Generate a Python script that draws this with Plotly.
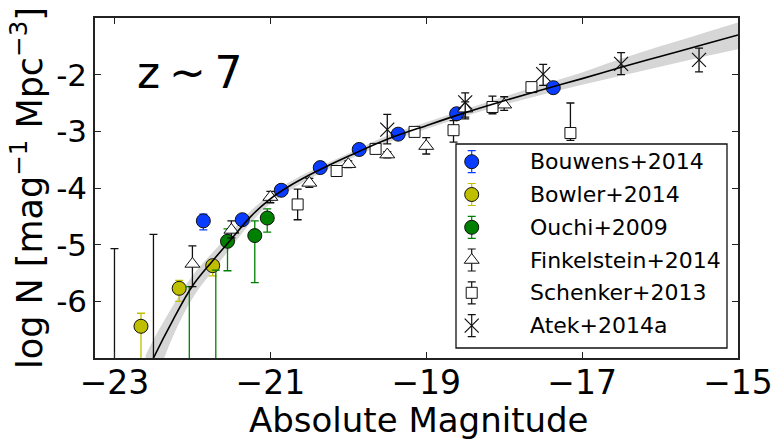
import plotly.graph_objects as go

# ---------------- data ----------------
bouwens_M = [-21.86, -21.36, -20.86, -20.36, -19.86, -19.36, -18.61, -17.37]
bouwens_logN = [-4.58, -4.56, -4.04, -3.64, -3.32, -3.05, -2.69, -2.23]
bouwens_up = [0.12, 0.05, 0.04, 0.03, 0.03, 0.03, 0.04, 0.05]
bouwens_dn = [0.16, 0.05, 0.04, 0.03, 0.03, 0.03, 0.04, 0.05]

bowler_M = [-22.66, -22.17, -21.74]
bowler_logN = [-6.44, -5.77, -5.37]
bowler_up = [0.23, 0.14, 0.07]
bowler_dn = [1.00, 0.23, 0.18]

ouchi_M = [-22.04, -21.70, -21.55, -21.20, -21.04]
ouchi_logN = [-7.60, -7.40, -4.94, -4.84, -4.53]
ouchi_up = [1.86, 1.95, 0.22, 0.26, 0.16]
ouchi_dn = [0.50, 0.50, 0.52, 0.83, 0.25]

finkel_M = [-23.0, -22.5, -22.0, -21.5, -21.0, -20.5, -20.0, -19.5, -19.0, -18.5, -18.0]
finkel_logN = [-7.80, -7.60, -5.34, -4.74, -4.16, -3.91, -3.58, -3.41, -3.26, -2.60, -2.53]
finkel_up = [2.73, 2.78, 0.32, 0.16, 0.10, 0.08, 0.06, 0.05, 0.15, 0.12, 0.14]
finkel_dn = [0.50, 0.50, 0.40, 0.14, 0.10, 0.08, 0.06, 0.06, 0.14, 0.15, 0.10]

schenker_M = [-20.65, -20.15, -19.65, -19.15, -18.65, -18.15, -17.65, -17.15]
schenker_logN = [-4.29, -3.70, -3.31, -3.01, -2.98, -2.57, -2.22, -3.03]
schenker_up = [0.27, 0.06, 0.05, 0.04, 0.17, 0.19, 0.06, 0.53]
schenker_dn = [0.27, 0.06, 0.05, 0.04, 0.21, 0.12, 0.06, 0.13]

atek_M = [-19.5, -18.5, -17.5, -16.5, -15.5]
atek_logN = [-2.97, -2.49, -1.99, -1.81, -1.74]
atek_up = [0.27, 0.17, 0.17, 0.20, 0.21]
atek_dn = [0.25, 0.29, 0.20, 0.19, 0.21]

# best-fit curve and its confidence band
fit_M = [-22.6, -22.5, -22.25, -22.0, -21.75, -21.5, -21.25, -21.0, -20.75, -20.5,
         -20.25, -20.0, -19.5, -19.0, -18.5, -18.0, -17.5, -17.0, -16.5, -16.0, -15.5, -15.0]
fit_logN = [-7.30, -7.00, -6.33, -5.73, -5.30, -4.90, -4.50, -4.19, -3.96, -3.77,
            -3.60, -3.44, -3.14, -2.90, -2.67, -2.46, -2.26, -2.07, -1.87, -1.68, -1.49, -1.30]
band_hi = [-6.95, -6.68, -6.08, -5.55, -5.15, -4.77, -4.40, -4.11, -3.89, -3.71,
           -3.55, -3.39, -3.08, -2.84, -2.61, -2.39, -2.17, -1.96, -1.72, -1.50, -1.29, -1.08]
band_lo = [-7.80, -7.50, -6.62, -5.95, -5.48, -5.04, -4.61, -4.28, -4.04, -3.84,
           -3.66, -3.50, -3.20, -2.96, -2.73, -2.53, -2.35, -2.18, -2.02, -1.86, -1.70, -1.55]

x_ticks = [-23, -21, -19, -17, -15]
x_ticktext = ["\u221223", "\u221221", "\u221219", "\u221217", "\u221215"]
y_ticks = [-2, -3, -4, -5, -6]
y_ticktext = ["-2", "-3", "-4", "-5", "-6"]

series_names = ["Bouwens+2014", "Bowler+2014", "Ouchi+2009",
                "Finkelstein+2014", "Schenker+2013", "Atek+2014a"]

# ---------------- styles ----------------
FONT = "DejaVu Sans"
BLUE = "#0a3cff"
YELLOW = "#bfbf00"
GREEN = "#008000"

styles = [
    dict(symbol="circle", size=14, color=BLUE, line=dict(color="#111", width=1), ecolor=BLUE),
    dict(symbol="circle", size=14, color=YELLOW, line=dict(color="#111", width=1), ecolor=YELLOW),
    dict(symbol="circle", size=14, color=GREEN, line=dict(color="#111", width=1), ecolor=GREEN),
    dict(symbol="triangle-up", size=13, color="white", line=dict(color="#111", width=1), ecolor="#111"),
    dict(symbol="square", size=11, color="white", line=dict(color="#111", width=1), ecolor="#111"),
    dict(symbol="x-thin", size=14, color="#111", line=dict(color="#111", width=1.2), ecolor="#111"),
]

data_sets = [
    (bouwens_M, bouwens_logN, bouwens_up, bouwens_dn),
    (bowler_M, bowler_logN, bowler_up, bowler_dn),
    (ouchi_M, ouchi_logN, ouchi_up, ouchi_dn),
    (finkel_M, finkel_logN, finkel_up, finkel_dn),
    (schenker_M, schenker_logN, schenker_up, schenker_dn),
    (atek_M, atek_logN, atek_up, atek_dn),
]

fig = go.Figure()

# confidence band
fig.add_trace(go.Scatter(x=fit_M, y=band_hi, mode="lines", line=dict(width=0, shape="spline"),
                         showlegend=False, hoverinfo="skip"))
fig.add_trace(go.Scatter(x=fit_M, y=band_lo, mode="lines", line=dict(width=0, shape="spline"),
                         fill="tonexty", fillcolor="#d6d6d6", showlegend=False, hoverinfo="skip"))

for name, (M, L, up, dn), st in zip(series_names, data_sets, styles):
    fig.add_trace(go.Scatter(
        x=M, y=L, mode="markers", name=name, showlegend=False,
        marker=dict(symbol=st["symbol"], size=st["size"], color=st["color"], line=st["line"]),
        error_y=dict(type="data", symmetric=False, array=up, arrayminus=dn,
                     color=st["ecolor"], thickness=1.3, width=4),
    ))

# best-fit line
fig.add_trace(go.Scatter(x=fit_M, y=fit_logN, mode="lines",
                         line=dict(color="black", width=1.6, shape="spline"),
                         showlegend=False, hoverinfo="skip"))

# ---------------- hand-built legend (pixel-space overlay axes) ----------------
leg_marker_x = 471.7
leg_text_x = 528
leg_rows = [161.7, 194.5, 227.3, 260.0, 292.8, 325.6]
leg_err = 11
for name, y, st in zip(series_names, leg_rows, styles):
    fig.add_trace(go.Scatter(
        x=[leg_marker_x], y=[y], xaxis="x2", yaxis="y2", mode="markers",
        showlegend=False, hoverinfo="skip",
        marker=dict(symbol=st["symbol"], size=st["size"], color=st["color"], line=st["line"]),
        error_y=dict(type="data", array=[leg_err], color=st["ecolor"], thickness=1.2, width=4),
    ))
    fig.add_annotation(x=leg_text_x, y=y, xref="x2", yref="y2", text=name, showarrow=False,
                       xanchor="left", yanchor="middle", font=dict(family=FONT, size=22, color="black"))

fig.add_shape(type="rect", xref="x2", yref="y2", x0=456, x1=727, y0=144, y1=348,
              line=dict(color="#111", width=1.3), fillcolor="white", layer="below")

fig.add_annotation(x=-22.74, y=-1.97, xref="x", yref="y", text="z\u2009~\u20097", showarrow=False,
                   xanchor="left", yanchor="middle", font=dict(family=FONT, size=44, color="black"))

# axis titles as annotations (exact placement)
fig.add_annotation(x=0.5, y=0, xref="paper", yref="paper", text="Absolute Magnitude",
                   showarrow=False, xanchor="center", yanchor="middle", xshift=2, yshift=-62,
                   borderpad=0, font=dict(family=FONT, size=34, color="black"))
fig.add_annotation(x=0, y=0.5, xref="paper", yref="paper",
                   text="log N [mag<sup>\u22121</sup> Mpc<sup>\u22123</sup>]",
                   showarrow=False, textangle=-90, xanchor="center", yanchor="middle", xshift=-68,
                   font=dict(family=FONT, size=35, color="black"))

axis_common = dict(showline=True, linecolor="#222", linewidth=1.5, mirror="allticks",
                   ticks="inside", ticklen=6, tickwidth=1, tickcolor="#222",
                   showgrid=False, zeroline=False, automargin=False)

fig.update_layout(
    width=781, height=441, autosize=False,
    margin=dict(l=95, r=43, t=18, b=83),
    paper_bgcolor="white", plot_bgcolor="white",
    font=dict(family=FONT, color="black"),
    xaxis=dict(range=[-23.25, -15], tickvals=x_ticks, ticktext=x_ticktext,
               tickfont=dict(size=33), ticklabelstandoff=-5, **axis_common),
    yaxis=dict(range=[-7, -1], tickvals=y_ticks, ticktext=y_ticktext,
               tickfont=dict(size=31), **axis_common),
    xaxis2=dict(overlaying="x", range=[95, 738], visible=False, fixedrange=True),
    yaxis2=dict(overlaying="y", range=[358, 18], visible=False, fixedrange=True),
    showlegend=False,
)

fig.write_html("out.html")
